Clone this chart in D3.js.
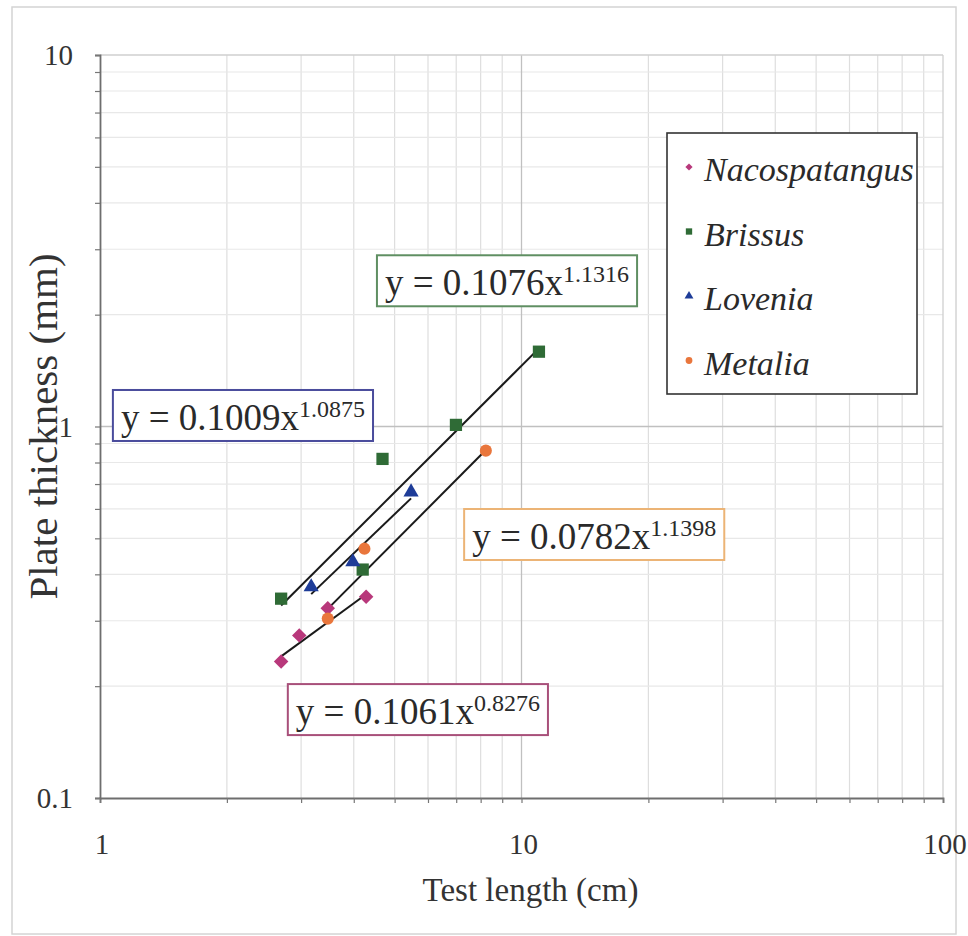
<!DOCTYPE html>
<html>
<head>
<meta charset="utf-8">
<script src="https://cdn.jsdelivr.net/npm/d3@7"></script>
<style>
  body { margin: 0; background: #fff; }
  svg { display: block; }
  svg text { font-family: "Liberation Serif", "Times New Roman", "DejaVu Serif", serif; }
</style>
</head>
<body>
<svg id="chart"></svg>
<script>
// series
const seriesNames = ["Nacospatangus", "Brissus", "Lovenia", "Metalia"]
const seriesColors = ["#b8387b", "#2f6b36", "#1e3c98", "#e9763c"]
const seriesShapes = [d3.symbolSquare, d3.symbolSquare, d3.symbolTriangle, d3.symbolCircle]
const seriesRotate = [45, 0, 0, 0]

const nacoX = [2.69, 2.97, 3.47, 4.28]
const nacoY = [0.233, 0.274, 0.324, 0.348]
const brissusX = [2.69, 4.20, 4.68, 6.99, 11.0]
const brissusY = [0.344, 0.412, 0.818, 1.01, 1.59]
const loveniaX = [3.17, 3.98, 5.47]
const loveniaY = [0.370, 0.432, 0.666]
const metaliaX = [3.47, 4.24, 8.23]
const metaliaY = [0.304, 0.469, 0.861]

// power-law fits printed on the chart
const fitCoef = [0.1061, 0.1076, 0.1009, 0.0782]
const fitExp = [0.8276, 1.1316, 1.0875, 1.1398]
const fitText = ["0.1061", "0.1076", "0.1009", "0.0782"]
const fitExpText = ["0.8276", "1.1316", "1.0875", "1.1398"]
const boxColors = ["#a8507a", "#5f8f62", "#4a4c9c", "#ecb476"]

const xTicks = [1, 10, 100]
const yTicks = [0.1, 1, 10]

const width = 968, height = 936
const margin = { top: 55, right: 25, bottom: 138, left: 100 }

const svg = d3.select("#chart").attr("width", width).attr("height", height)

svg.append("rect").attr("width", width).attr("height", height).attr("fill", "#fff")
// outer chart border
svg.append("rect")
  .attr("x", 12).attr("y", 7).attr("width", 944).attr("height", 927)
  .attr("fill", "none").attr("stroke", "#d4d4d4").attr("stroke-width", 1.5)

const x = d3.scaleLog().domain([1, 100]).range([margin.left, width - margin.right])
const y = d3.scaleLog().domain([0.1, 10]).range([height - margin.bottom, margin.top])

const [x0, x1] = x.range()
const [y0, y1] = y.range()

// minor / major grid
const minorX = [], minorY = []
for (const dec of [1, 10]) for (let k = 2; k <= 9; k++) minorX.push(dec * k)
for (const dec of [0.1, 1]) for (let k = 2; k <= 9; k++) minorY.push(+(dec * k).toFixed(2))

const grid = svg.append("g")
grid.selectAll(".gx").data(minorX).join("line")
  .attr("x1", d => x(d)).attr("x2", d => x(d)).attr("y1", y1).attr("y2", y0)
  .attr("stroke", "#dedede").attr("stroke-width", 1.2)
grid.selectAll(".gy").data(minorY).join("line")
  .attr("y1", d => y(d)).attr("y2", d => y(d)).attr("x1", x0).attr("x2", x1)
  .attr("stroke", "#e8e8e8").attr("stroke-width", 1.2)
grid.append("line")
  .attr("x1", x(10)).attr("x2", x(10)).attr("y1", y1).attr("y2", y0)
  .attr("stroke", "#c0c0c0").attr("stroke-width", 1.3)
grid.append("line")
  .attr("y1", y(1)).attr("y2", y(1)).attr("x1", x0).attr("x2", x1)
  .attr("stroke", "#c0c0c0").attr("stroke-width", 1.3)

// frame
svg.append("line").attr("x1", x0).attr("x2", x1).attr("y1", y1).attr("y2", y1)
  .attr("stroke", "#cfcfcf").attr("stroke-width", 1.3)
svg.append("line").attr("x1", x1).attr("x2", x1).attr("y1", y1).attr("y2", y0)
  .attr("stroke", "#cfcfcf").attr("stroke-width", 1.3)

// axes
const axisX = svg.append("g").attr("transform", `translate(0,${y0})`)
  .call(d3.axisBottom(x).tickValues(xTicks.concat(minorX)).tickSize(5).tickFormat(""))
const axisY = svg.append("g").attr("transform", `translate(${x0},0)`)
  .call(d3.axisLeft(y).tickValues(yTicks.concat(minorY)).tickSize(5).tickFormat(""))
for (const a of [axisX, axisY]) {
  a.select(".domain").attr("stroke", "#6e6e6e").attr("stroke-width", 1.8)
  a.selectAll(".tick line").attr("stroke", "#777").attr("stroke-width", 1.2)
}

svg.append("g").selectAll("text").data(xTicks).join("text")
  .attr("x", d => x(d) + 2).attr("y", y0 + 56)
  .attr("text-anchor", "middle").attr("font-size", 29).attr("fill", "#333")
  .text(d => d)
svg.append("g").selectAll("text").data(yTicks).join("text")
  .attr("x", x0 - 27).attr("y", d => y(d)).attr("dy", "0.36em")
  .attr("text-anchor", "end").attr("font-size", 29).attr("fill", "#333")
  .text(d => d)

svg.append("text")
  .attr("x", (x0 + x1) / 2 + 9).attr("y", 901)
  .attr("text-anchor", "middle").attr("font-size", 33).attr("fill", "#333")
  .text("Test length (cm)")
svg.append("text")
  .attr("transform", `translate(57,${(y0 + y1) / 2}) rotate(-90)`)
  .attr("text-anchor", "middle").attr("font-size", 41).attr("fill", "#333")
  .text("Plate thickness (mm)")

// fit lines
const seriesX = [nacoX, brissusX, loveniaX, metaliaX]
const seriesY = [nacoY, brissusY, loveniaY, metaliaY]
const fits = svg.append("g")
seriesX.forEach((xs, i) => {
  const ends = d3.extent(xs)
  fits.append("line")
    .attr("x1", x(ends[0])).attr("y1", y(fitCoef[i] * Math.pow(ends[0], fitExp[i])))
    .attr("x2", x(ends[1])).attr("y2", y(fitCoef[i] * Math.pow(ends[1], fitExp[i])))
    .attr("stroke", "#1a1a1a").attr("stroke-width", 2)
})

// markers
const symSize = [105, 150, 100, 115]
const marks = svg.append("g")
seriesX.forEach((xs, i) => {
  marks.selectAll(null).data(xs.map((v, j) => [v, seriesY[i][j]])).join("path")
    .attr("transform", d => `translate(${x(d[0])},${y(d[1])}) rotate(${seriesRotate[i]})`)
    .attr("d", d3.symbol(seriesShapes[i], symSize[i]))
    .attr("fill", seriesColors[i])
})

// equation labels, anchored in data space (top-left corner of each box)
const boxAnchorX = [2.79, 4.54, 1.073, 7.31]
const boxAnchorY = [0.2026, 2.89, 1.254, 0.5997]
seriesNames.forEach((n, i) => {
  const g = svg.append("g").attr("transform", `translate(${x(boxAnchorX[i])},${y(boxAnchorY[i])})`)
  const box = g.append("rect").attr("fill", "#fff").attr("stroke", boxColors[i]).attr("stroke-width", 2)
  const t = g.append("text").attr("x", 8).attr("y", 40).attr("font-size", 37).attr("fill", "#2a2a2a")
  t.append("tspan").text(`y = ${fitText[i]}x`)
  t.append("tspan").attr("font-size", 24).attr("dy", -13).text(fitExpText[i])
  const w = t.node().getComputedTextLength()
  box.attr("width", w + 16).attr("height", 51)
})

// legend
const legendSize = [26, 40, 34, 36]
const legend = svg.append("g").attr("transform", "translate(667,133)")
legend.append("rect").attr("width", 250).attr("height", 261)
  .attr("fill", "#fff").attr("stroke", "#333").attr("stroke-width", 1.6)
seriesNames.forEach((n, i) => {
  const row = legend.append("g").attr("transform", `translate(0,${34 + i * 64.5})`)
  row.append("path").attr("transform", `translate(22,0) rotate(${seriesRotate[i]})`)
    .attr("d", d3.symbol(seriesShapes[i], legendSize[i])).attr("fill", seriesColors[i])
  row.append("text").attr("x", 37).attr("y", 14)
    .attr("font-size", 34).attr("font-style", "italic").attr("fill", "#2a2a2a")
    .text(n)
})
</script>
</body>
</html>
